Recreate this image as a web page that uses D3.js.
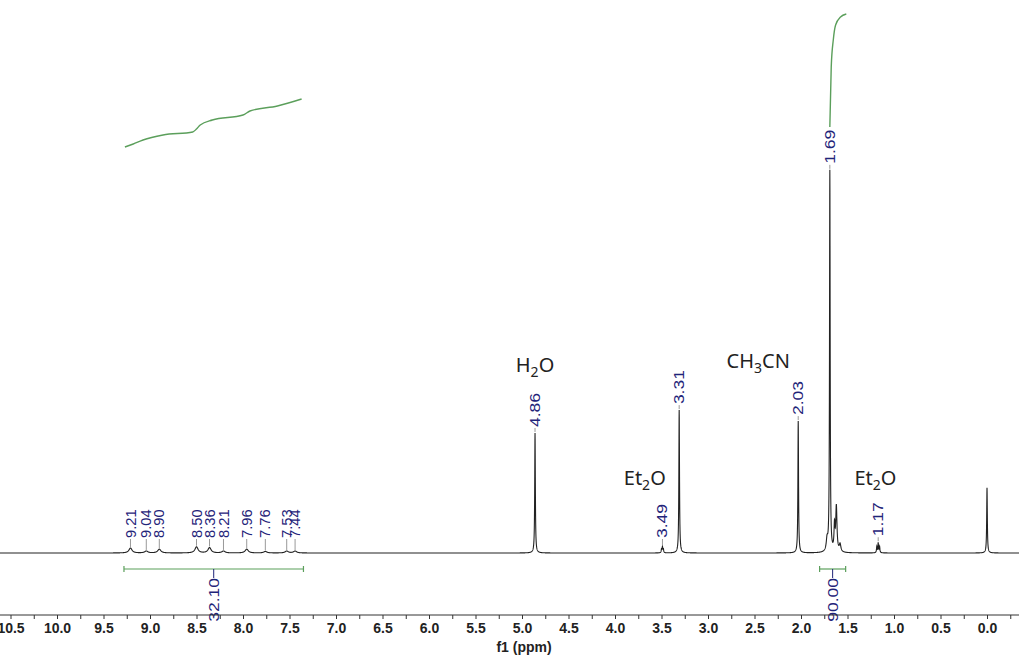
<!DOCTYPE html>
<html>
<head>
<meta charset="utf-8">
<script src="https://cdn.jsdelivr.net/npm/d3@7/dist/d3.min.js"></script>
<style>
  html, body { margin: 0; padding: 0; background: #fff; }
  svg { display: block; }
</style>
</head>
<body>
<div id="chart"></div>
<script>
// peak list (ppm, height relative to 1.69 = 100, half width in ppm)
const peakShifts  = [9.21, 9.04, 8.90, 8.50, 8.36, 8.21, 7.96, 7.76, 7.53, 7.44,
                     4.86, 3.50, 3.49, 3.48, 3.31, 2.03, 1.72, 1.69, 1.64, 1.62, 1.58,
                     1.185, 1.17, 1.155, 0.00];
const peakHeights = [1.3, 0.5, 1.0, 1.6, 1.4, 0.5, 1.0, 0.4, 0.5, 0.5,
                     31.5, 0.9, 1.5, 0.9, 37.5, 34.6, 3.0, 100, 6.5, 11.8, 2.0,
                     1.6, 2.6, 1.6, 17.1];
const peakWidths  = [0.02, 0.02, 0.02, 0.02, 0.02, 0.02, 0.02, 0.02, 0.02, 0.02,
                     0.004, 0.004, 0.004, 0.004, 0.004, 0.004, 0.01, 0.004, 0.006, 0.008, 0.01,
                     0.004, 0.004, 0.004, 0.004];

// peak picking labels
const peakLabels = ["9.21", "9.04", "8.90", "8.50", "8.36", "8.21", "7.96", "7.76", "7.53", "7.44",
                    "4.86", "3.49", "3.31", "2.03", "1.69", "1.17"];

// integrals: range [from, to] in ppm, value, and the drawn integral trace
const integralRanges = [[9.28, 7.35], [1.80, 1.52]];
const integralValues = ["32.10", "90.00"];
const integralTraceA = [[9.27, 422], [9.18, 425], [9.075, 429], [8.86, 434], [8.54, 437], [8.50, 440],
                        [8.46, 444], [8.33, 449], [8.00, 454], [7.925, 458], [7.63, 463], [7.37, 470]];
const integralTraceB = [[1.69, 442], [1.675, 502], [1.653, 529], [1.628, 544], [1.575, 552], [1.513, 555]];

// solvent annotations: [text, subscript, rest, ppm]
const annotations = [["H", "2", "O", 4.86], ["Et", "2", "O", 3.68], ["CH", "3", "CN", 2.46], ["Et", "2", "O", 1.20]];

const axisTicks = d3.range(-0.25, 10.51, 0.25);

const width = 1019, height = 659;
const baseY = 553, axisY = 615, bracketY = 569;

const svg = d3.select('#chart')
    .append('svg')
    .attr('width', width)
    .attr('height', height);

const x = d3.scaleLinear().domain([10.613, -0.344]).range([0, width]);
const y = d3.scaleLinear().domain([0, 100]).range([baseY, 172]);
const yInt = d3.scaleLinear().domain([0, bracketY]).range([bracketY, 0]);

function intensity(ppm) {
    let s = 0;
    for (let i = 0; i < peakShifts.length; i++) {
        const d = ppm - peakShifts[i], w = peakWidths[i];
        s += peakHeights[i] * w * w / (w * w + d * d);
    }
    return s;
}

const grid = d3.range(10.7, -0.45, -0.001);
const spectrum = grid.map(p => [p, intensity(p)]);

const navy = '#1f2479', green = '#5b9f5b';

// integral traces (under the spectrum)
const intLine = d3.line()
    .x(d => x(d[0]))
    .y(d => yInt(d[1]))
    .curve(d3.curveMonotoneX);

[integralTraceA, integralTraceB].forEach(t => {
    svg.append('path')
        .attr('d', intLine(t))
        .attr('fill', 'none')
        .attr('stroke', green)
        .attr('stroke-width', 1.4);
});

// spectrum
svg.append('path')
    .attr('d', d3.line().x(d => x(d[0])).y(d => y(d[1]))(spectrum))
    .attr('fill', 'none')
    .attr('stroke', '#222')
    .attr('stroke-width', 1.1);

// peak labels
peakLabels.forEach(t => {
    const p = +t;
    const top = y(d3.max(grid.filter(g => Math.abs(g - p) < 0.006), g => intensity(g)));
    const bottom = Math.min(baseY - 15, top - 6);
    const crowded = p > 7;
    svg.append('line')
        .attr('x1', x(p)).attr('x2', x(p))
        .attr('y1', bottom + 1).attr('y2', top - 1)
        .attr('stroke', '#999').attr('stroke-width', 1);
    svg.append('text')
        .attr('transform', `translate(${x(p)},${bottom}) rotate(-90) scale(${crowded ? 1.05 : 1.25},1)`)
        .attr('dy', '0.36em')
        .attr('font-family', 'Liberation Sans, Arial, sans-serif')
        .attr('font-size', 14)
        .attr('fill', navy)
        .text(t);
});

// integral brackets
integralRanges.forEach((r, i) => {
    const g = svg.append('g').attr('stroke', green).attr('stroke-width', 1.2);
    g.append('line').attr('x1', x(r[0])).attr('x2', x(r[1])).attr('y1', bracketY).attr('y2', bracketY);
    r.forEach(e => g.append('line').attr('x1', x(e)).attr('x2', x(e)).attr('y1', bracketY - 3).attr('y2', bracketY + 3));
    const mid = (r[0] + r[1]) / 2;
    svg.append('line')
        .attr('x1', x(mid)).attr('x2', x(mid))
        .attr('y1', bracketY).attr('y2', bracketY + 9)
        .attr('stroke', navy).attr('stroke-width', 1);
    svg.append('text')
        .attr('transform', `translate(${x(mid)},${bracketY + 9}) rotate(-90) scale(1.25,1)`)
        .attr('text-anchor', 'end')
        .attr('dy', '0.36em')
        .attr('font-family', 'Liberation Sans, Arial, sans-serif')
        .attr('font-size', 14)
        .attr('fill', navy)
        .text(integralValues[i]);
});

// solvent annotations
const annY = [372, 485, 368, 485];
annotations.forEach((a, i) => {
    const t = svg.append('text')
        .attr('x', x(a[3]))
        .attr('y', annY[i])
        .attr('text-anchor', 'middle')
        .attr('font-family', 'Noto Sans, sans-serif')
        .attr('font-size', 20)
        .attr('fill', '#222');
    t.append('tspan').text(a[0]);
    t.append('tspan').attr('font-size', 14).attr('dy', 5).text(a[1]);
    t.append('tspan').attr('dy', -5).text(a[2]);
});

// x axis
const axis = d3.axisBottom(x)
    .tickValues(axisTicks)
    .tickSize(4)
    .tickFormat(d => Math.round(d * 100) % 50 === 0 ? d3.format('.1f')(Math.abs(d) < 1e-9 ? 0 : d) : '');

const ax = svg.append('g')
    .attr('transform', `translate(0,${axisY})`)
    .call(axis);
ax.select('.domain').attr('stroke', '#333').attr('d', `M0,0H${width}`);
ax.selectAll('.tick line').attr('stroke', '#333');
ax.selectAll('.tick text')
    .attr('y', 8)
    .attr('font-family', 'Liberation Sans, Arial, sans-serif')
    .attr('font-weight', 'bold')
    .attr('font-size', 14)
    .attr('fill', '#222');

svg.append('text')
    .attr('x', 524)
    .attr('y', 652)
    .attr('text-anchor', 'middle')
    .attr('font-family', 'Liberation Sans, Arial, sans-serif')
    .attr('font-weight', 'bold')
    .attr('font-size', 14)
    .attr('fill', '#222')
    .text('f1 (ppm)');
</script>
</body>
</html>
